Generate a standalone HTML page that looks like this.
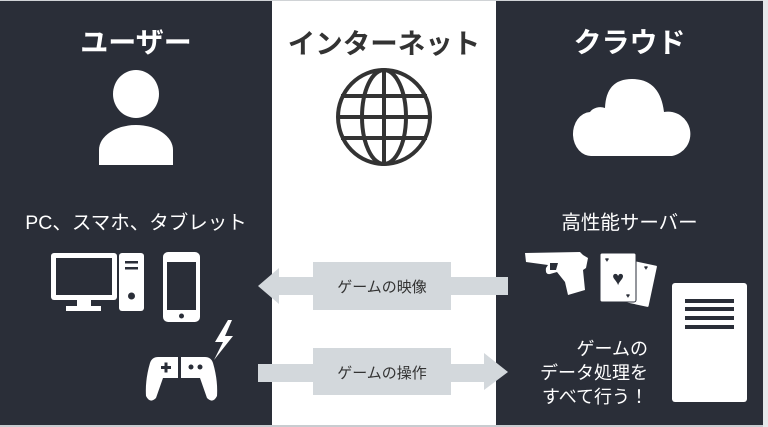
<!DOCTYPE html>
<html><head><meta charset="utf-8"><style>
body{margin:0;width:768px;height:427px;overflow:hidden;background:#fff;font-family:"Liberation Sans","Noto Sans CJK JP",sans-serif}
.t{position:absolute;text-align:center;white-space:nowrap}
</style></head><body>
<svg width="768" height="427" style="position:absolute;left:0;top:0">
<rect x="0" y="0" width="768" height="427" fill="#fff"/>
<rect x="0" y="1" width="272" height="424" fill="#2a2e38"/>
<rect x="496" y="1" width="267" height="424" fill="#2a2e38"/>
<rect x="0" y="425" width="768" height="2" fill="#c8ccd0"/>
<rect x="0" y="0" width="768" height="1" fill="#d0d3d6"/>
<rect x="763" y="0" width="5" height="427" fill="#e6e8ea"/>
<ellipse cx="136" cy="94" rx="23" ry="24" fill="#fff"/>
<path d="M99 165 V150 A37 25 0 0 1 173 150 V165 Z" fill="#fff"/>
<g fill="none" stroke="#333" stroke-width="4">
<ellipse cx="384" cy="117" rx="46" ry="47"/>
<ellipse cx="384" cy="117" rx="22" ry="47"/>
<line x1="384" y1="70" x2="384" y2="164"/>
<line x1="341" y1="96" x2="427" y2="96"/>
<line x1="338" y1="117" x2="430" y2="117"/>
<line x1="341" y1="138" x2="427" y2="138"/>
</g>
<path d="M592 156 A18 22 0 0 1 590 112 A12 10 0 0 1 605 108 Q606 79 632 79 Q660 79 664 112 A22 22 0 0 1 672 156 Z" fill="#fff"/>
<rect x="51" y="253" width="66" height="47" rx="3" fill="#fff"/>
<rect x="56" y="258" width="56" height="37" fill="#2a2e38"/>
<rect x="77" y="300" width="14" height="8" fill="#fff"/>
<rect x="66" y="306" width="35" height="5" fill="#fff"/>
<rect x="119" y="253" width="25" height="58" rx="3" fill="#fff"/>
<rect x="125" y="261" width="13" height="2.5" fill="#2a2e38"/>
<rect x="125" y="267" width="13" height="2.5" fill="#2a2e38"/>
<circle cx="131.5" cy="296" r="3.5" fill="#2a2e38"/>
<rect x="163" y="252" width="37" height="70" rx="5" fill="#fff"/>
<rect x="167" y="262" width="29" height="48" fill="#2a2e38"/>
<circle cx="181.5" cy="316" r="2.5" fill="#2a2e38"/>
<path d="M228 320 L215 342 L223 342 L214 360 L233 336 L225 336 L232 320 Z" fill="#fff"/>
<path d="M150 363 Q152 357 158 357 L178 357 L178 378 L163 378 L156 398 Q150 404 146 396 Q145 380 150 363 Z" fill="#fff"/>
<path d="M181 357 L205 357 Q211 357 213 363 Q218 380 217 396 Q213 404 207 398 L200 378 L181 378 Z" fill="#fff"/>
<rect x="161" y="366" width="10" height="3" fill="#2a2e38"/><rect x="164.5" y="362.5" width="3" height="10" fill="#2a2e38"/>
<circle cx="191" cy="367" r="2.5" fill="#2a2e38"/><circle cx="200" cy="367" r="2.5" fill="#2a2e38"/>
<g fill="#d3d8dc">
<rect x="313" y="262" width="138" height="48"/>
<rect x="278" y="277" width="230" height="18"/>
<polygon points="258,286 279,268 279,304"/>
<rect x="313" y="348" width="138" height="47"/>
<rect x="258" y="364" width="228" height="18"/>
<polygon points="508,372 484,353 484,390"/>
</g>
<path d="M525 253 L580 252 L583 255 L588 258 L586 268 L583 270 L585 290 L568 295 L565 282 L557 272 L550 274 Q545 275 546 268 L548 265 L526 262 Z" fill="#fff"/>
<path d="M550 263 L558 263 L556 270 L550 270 Z" fill="#2a2e38"/>
<rect x="628" y="262" width="26" height="44" rx="2" transform="rotate(12 641 284)" fill="#fff" stroke="#2a2e38" stroke-width="2"/>
<rect x="600" y="253" width="36" height="49" rx="2" fill="#fff" stroke="#2a2e38" stroke-width="1"/>
<text x="618" y="285" font-size="20" fill="#2a2e38" text-anchor="middle">♥</text>
<text x="607" y="262" font-size="7" fill="#2a2e38" text-anchor="middle">♥</text>
<text x="628" y="298" font-size="7" fill="#2a2e38" text-anchor="middle">♥</text>
<text x="646" y="270" font-size="7" fill="#2a2e38" text-anchor="middle">♥</text>
<rect x="672" y="283" width="75" height="119" rx="3" fill="#fff"/>
<g fill="#2a2e38"><rect x="685" y="299" width="49" height="4"/><rect x="685" y="307" width="49" height="4"/><rect x="685" y="316" width="49" height="4"/><rect x="685" y="325" width="49" height="4"/></g>
</svg>
<div class="t" style="left:0;width:272px;top:21px;font-size:28px;font-weight:bold;color:#fff">ユーザー</div>
<div class="t" style="left:272px;width:224px;top:21px;font-size:27.5px;font-weight:bold;color:#333">インターネット</div>
<div class="t" style="left:496px;width:267px;top:21px;font-size:28px;font-weight:bold;color:#fff">クラウド</div>
<div class="t" style="left:0;width:272px;top:206px;font-size:19.5px;color:#fff">PC、スマホ、タブレット</div>
<div class="t" style="left:496px;width:267px;top:206px;font-size:19.5px;color:#fff">高性能サーバー</div>
<div class="t" style="left:313px;width:138px;top:276px;font-size:15px;color:#333">ゲームの映像</div>
<div class="t" style="left:313px;width:138px;top:362px;font-size:15px;color:#333">ゲームの操作</div>
<div class="t" style="left:520px;width:128px;top:337px;font-size:18px;line-height:24px;color:#fff;text-align:right">ゲームの<br>データ処理を<br>すべて行う！</div>
</body></html>
